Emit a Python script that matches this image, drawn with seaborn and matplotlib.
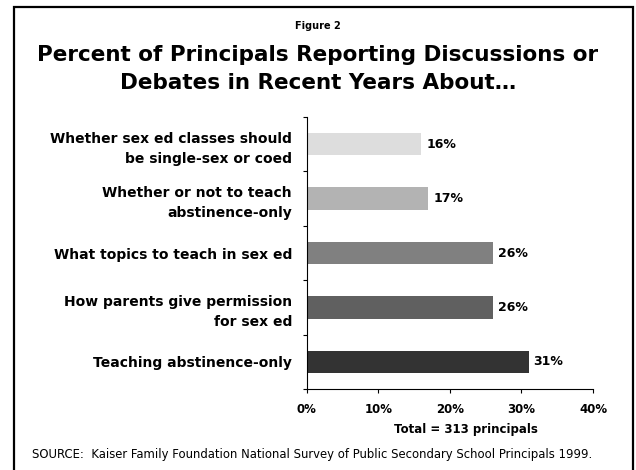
import matplotlib
matplotlib.use("Agg")
import matplotlib.pyplot as plt
import matplotlib.patches as patches
import matplotlib.ticker as mticker
import seaborn as sns
import pandas as pd
import numpy as np

# data
topics = [
    "Whether sex ed classes should\nbe single-sex or coed",
    "Whether or not to teach\nabstinence-only",
    "What topics to teach in sex ed",
    "How parents give permission\nfor sex ed",
    "Teaching abstinence-only",
]
percents = [16, 17, 26, 26, 31]
bar_colors = ["#dddddd", "#b3b3b3", "#808080", "#606060", "#333333"]
x_ticks = [0, 10, 20, 30, 40]

df = pd.DataFrame({"topic": topics, "pct": percents})

sns.set_style("white")
plt.rcParams["font.family"] = ["DejaVu Sans"]
plt.rcParams["text.color"] = "black"
plt.rcParams["xtick.color"] = "black"
plt.rcParams["ytick.color"] = "black"

fig = plt.figure(figsize=(6.36, 4.70), dpi=100)
ax = fig.add_axes([0.4822, 0.1723, 0.4502, 0.5787])

sns.barplot(data=df, x="pct", y="topic", hue="topic", palette=bar_colors,
            order=topics, hue_order=topics, legend=False, width=0.41,
            saturation=1, edgecolor="none", ax=ax)

for cont in ax.containers:
    ax.bar_label(cont, fmt="%d%%", padding=3.5, fontsize=9, fontweight="bold", color="black")

ax.set_xlim(0, 40)
ax.set_ylim(4.5, -0.5)
ax.set_xticks(x_ticks)
ax.xaxis.set_major_formatter(mticker.FuncFormatter(lambda v, p: f"{v:.0f}%"))
ax.set_xlabel("")
ax.set_ylabel("")

# ticks between categories on the y axis
ax.set_yticks(np.arange(-0.5, 5, 1), minor=True)
ax.tick_params(axis="y", which="major", left=True, length=0, pad=10.5, labelsize=10)
ax.tick_params(axis="y", which="minor", left=True, length=3, width=0.8, direction="out")
ax.tick_params(axis="x", which="major", bottom=True, length=3, width=0.8, direction="out",
               pad=7, labelsize=8.5)
for lbl in ax.get_yticklabels():
    lbl.set_fontweight("bold")
    lbl.set_linespacing(1.55)
for lbl in ax.get_xticklabels():
    lbl.set_fontweight("bold")

sns.despine(ax=ax)
for side in ["left", "bottom"]:
    ax.spines[side].set_color("black")
    ax.spines[side].set_linewidth(0.8)

fig.text(0.5, 0.9453, "Figure 2", ha="center", va="center", fontsize=7, fontweight="bold")
fig.text(0.5, 0.853, "Percent of Principals Reporting Discussions or\nDebates in Recent Years About\u2026",
         ha="center", va="center", fontsize=15.5, fontweight="bold", linespacing=1.5)
fig.text(0.733, 0.0872, "Total = 313 principals", ha="center", va="center",
         fontsize=8.5, fontweight="bold")
fig.text(0.0503, 0.032,
         "SOURCE:  Kaiser Family Foundation National Survey of Public Secondary School Principals 1999.",
         ha="left", va="center", fontsize=8.4)

# frame around the slide
fig.add_artist(patches.Rectangle((0.022, -0.05), 0.9725, 1.035, transform=fig.transFigure,
                                 fill=False, edgecolor="black", linewidth=1.6, clip_on=False))

fig.savefig("out.png", dpi=100)
